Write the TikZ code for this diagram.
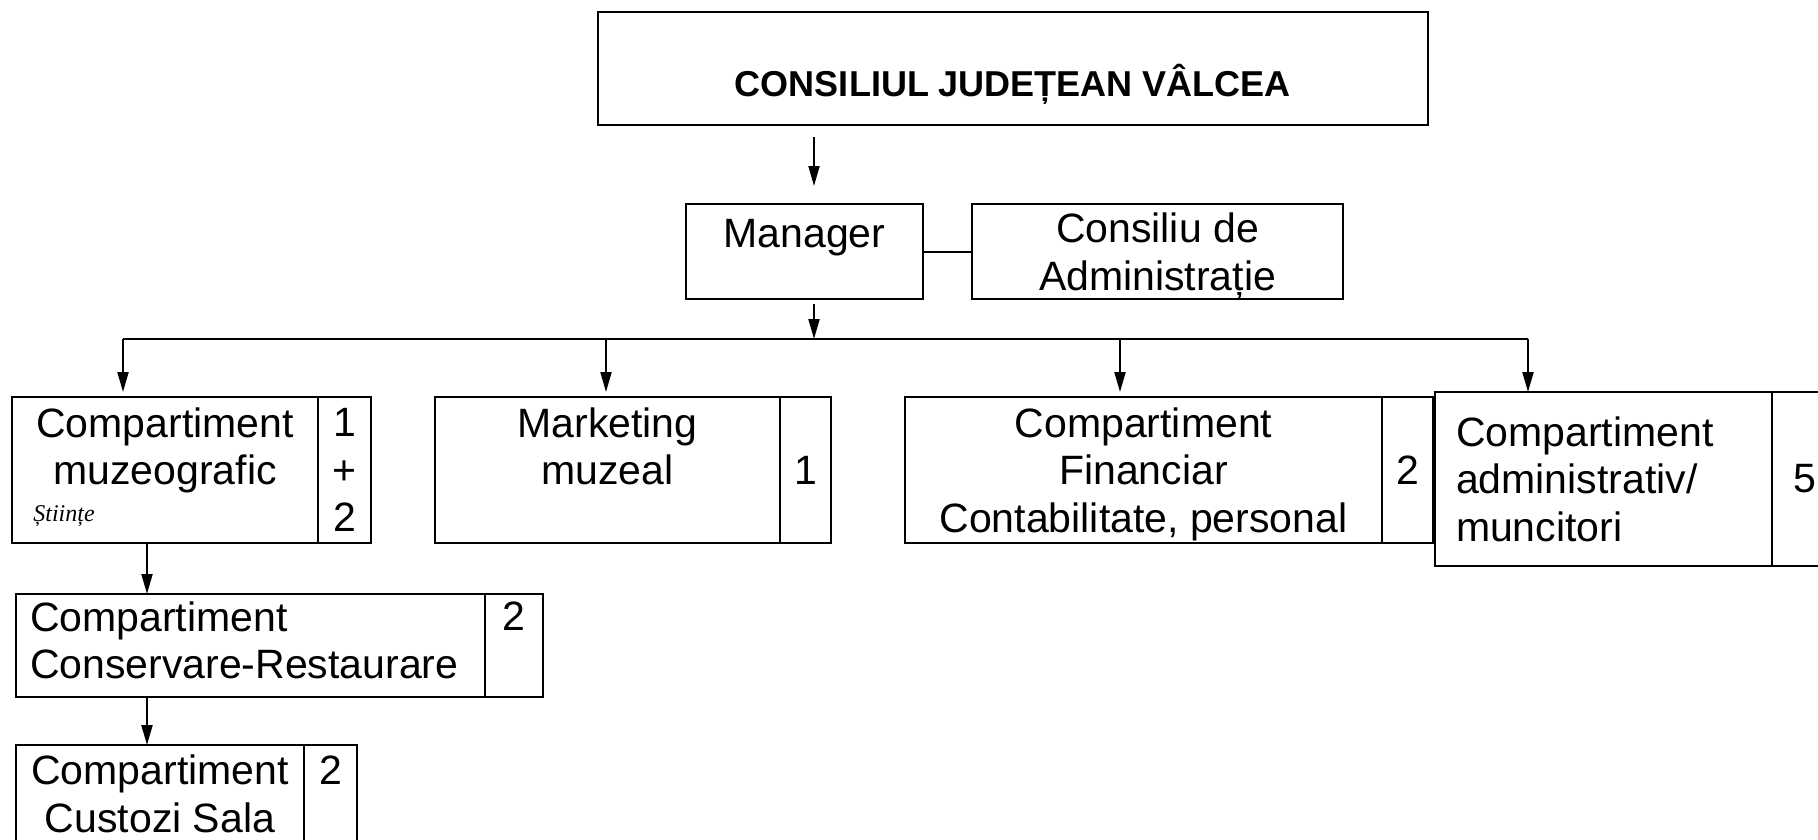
\documentclass[tikz,border=0pt]{standalone}
\usepackage{fontspec}
\setmainfont{Liberation Sans}
\newfontfamily\handfont{Liberation Serif}
\usetikzlibrary{arrows.meta, positioning}
\tikzstyle{box} = [draw, line width=2pt, inner sep=0pt, outer sep=0pt, align=center, font=\fontsize{41}{47.5}\selectfont]
\tikzstyle{lbox} = [box, align=left]
\tikzstyle{l} = [line width=2pt]
\tikzstyle{arr} = [l, -{Triangle[length=20pt, width=11pt]}]

\begin{document}
\begin{tikzpicture}[x=1pt, y=-1pt]
                \useasboundingbox (0,0) rectangle (1818,839);
                \clip (0,0) rectangle (1818,839);

                \node[box, minimum width=830pt, minimum height=113pt, text height=60pt, text depth=5pt,
                    font=\fontsize{36}{42}\selectfont\bfseries] (top) at (1013,68.5) {CONSILIUL JUDEȚEAN VÂLCEA};
                \node[box, minimum width=237pt, minimum height=95pt] (man) at (804.5,251.5) {\rule{0pt}{40pt}Manager\\\mbox{}};
                \node[box, minimum width=371pt, minimum height=95pt] (cons) at (1157.5,251.5) {Consiliu de\\\smash{Administrație}};

                \node[box, minimum width=306pt, minimum height=146pt] (muz) at (165,470) {Compartiment\\muzeografic\\\mbox{}};
                \node[box, minimum width=53pt, minimum height=146pt, right=0pt of muz] (muzn) {1\\+\\2};
                \node[font=\handfont\itshape\fontsize{24}{28}\selectfont] (hand) at (64,516) {Științe};

                \node[box, minimum width=345pt, minimum height=146pt] (mkt) at (607.5,470) {Marketing\\muzeal\\\mbox{}};
                \node[box, minimum width=51pt, minimum height=146pt, right=0pt of mkt] (mktn) {1};

                \node[box, minimum width=477pt, minimum height=146pt] (fin) at (1143.5,470) {Compartiment\\Financiar\\\smash{Contabilitate, personal}};
                \node[box, minimum width=51pt, minimum height=146pt, right=0pt of fin] (finn) {2};

                \node[lbox, inner xsep=21pt, text width=295pt, minimum height=174pt] (adm) at (1603.5,479) {Compartiment\\administrativ/\\muncitori};
                \node[box, minimum width=66pt, minimum height=174pt, right=0pt of adm] (admn) {5};

                \node[lbox, inner xsep=14pt, text width=441pt, minimum height=103pt] (cr) at (250.5,645.5) {Compartiment\\Conservare-Restaurare\rule[-11pt]{0pt}{0pt}};
                \node[box, minimum width=58pt, minimum height=103pt, right=0pt of cr] (crn) {2\\\rule[-11pt]{0pt}{0pt}};

                \node[box, minimum width=288pt, minimum height=98pt] (cust) at (160,794) {Compartiment\\Custozi Sala};
                \node[box, minimum width=53pt, minimum height=98pt, right=0pt of cust] (custn) {2\\\mbox{}};

                \coordinate (stem) at (814,339);
                \draw[arr, shorten <=12pt, shorten >=18pt] (top.south -| stem) -- (man.north -| stem);
                \draw[l] (man.east) -- (cons.west);
                \draw[arr, shorten <=5pt] (man.south -| stem) -- (stem);

                \foreach \b/\x in {b1/123, b2/606, b3/1120, b4/1528}
                \coordinate (\b) at (\x,339);
                \draw[l] (b1) -- (b4);
                \foreach \b/\n in {b1/muz, b2/mkt, b3/fin}
                \draw[arr, shorten >=5pt] (\b) -- (\b |- \n.north);
                \draw[arr] (b4) -- (b4 |- adm.north);

                \coordinate (lft) at (147,570);
                \draw[arr] (muz.south -| lft) -- (cr.north -| lft);
                \draw[arr] (cr.south -| lft) -- (cust.north -| lft);
            \end{tikzpicture}
\end{document}
